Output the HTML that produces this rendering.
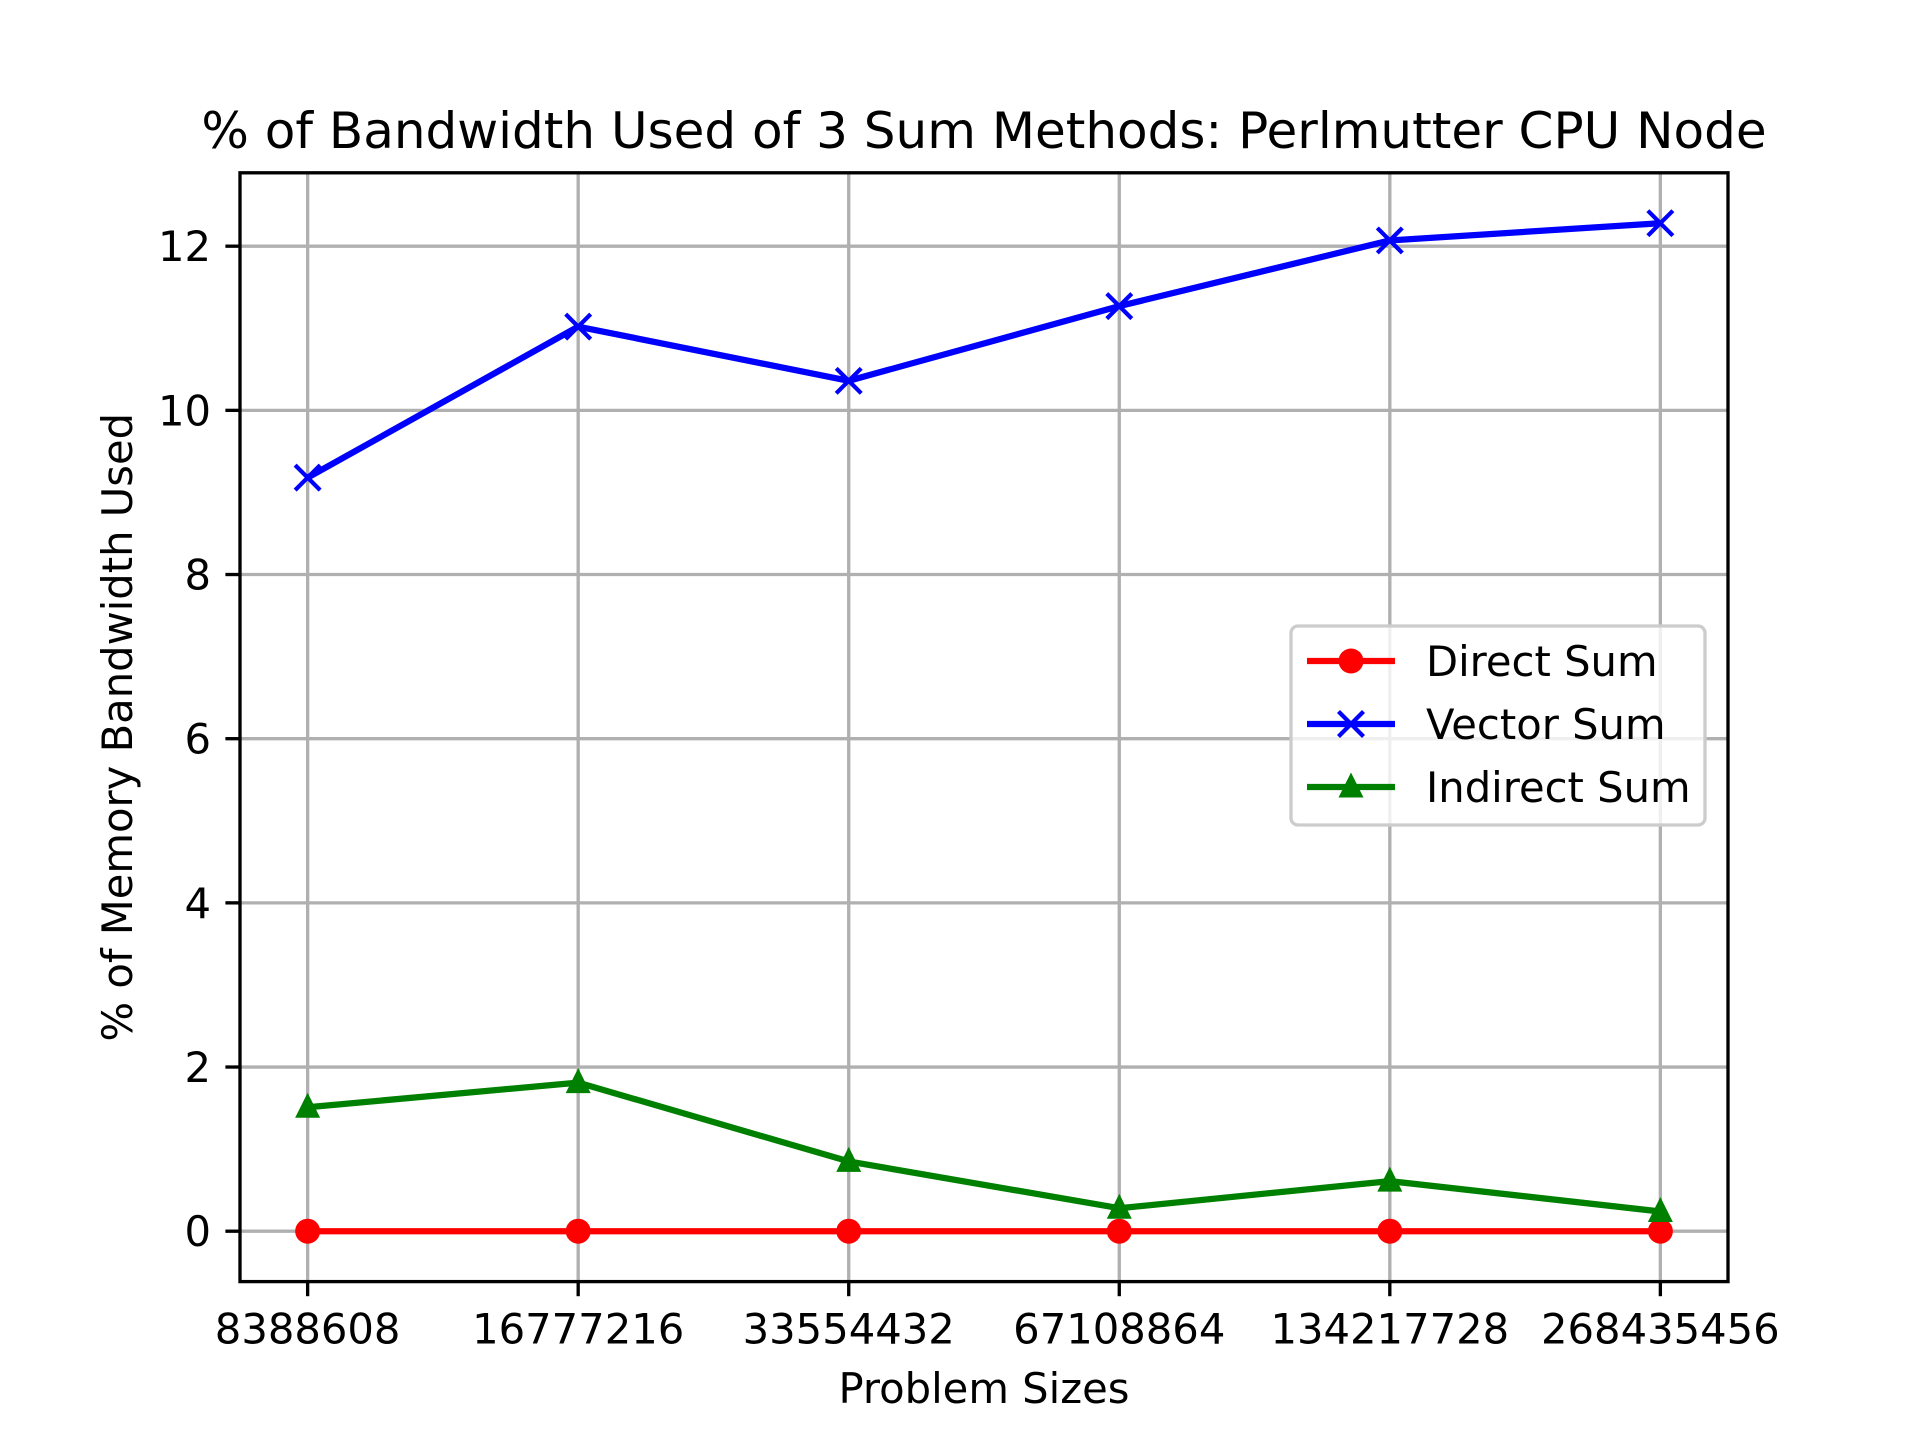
<!DOCTYPE html>
<html><head><meta charset="utf-8"><style>body{margin:0;background:#fff}svg{display:block}text{font-family:"DejaVu Sans","Liberation Sans",sans-serif;fill:#000}</style></head>
<body>
<svg id="chart" width="1920" height="1440" xmlns="http://www.w3.org/2000/svg">
<rect width="1920" height="1440" fill="#fff"/>
<g id="grid"></g><g id="series"></g><g id="axes"></g>
</svg>
<script>
const categories=["8388608","16777216","33554432","67108864","134217728","268435456"];
const directSum=[0,0,0,0,0,0];
const vectorSum=[9.18,11.02,10.36,11.27,12.07,12.28];
const indirectSum=[1.51,1.81,0.85,0.28,0.61,0.24];
const yTicks=[0,2,4,6,8,10,12];
const L=240,R=1728,T=172.8,B=1281.6;
const ns="http://www.w3.org/2000/svg";
const allv=directSum.concat(vectorSum,indirectSum);
const ymin=Math.min(...allv),ymax=Math.max(...allv),pad=(ymax-ymin)*0.05;
const y0=ymin-pad,y1=ymax+pad;
const x=i=>L+(i+0.25)/(categories.length-1+0.5)*(R-L);
const y=v=>B-(v-y0)/(y1-y0)*(B-T);
function mk(tag,attrs,parent){const e=document.createElementNS(ns,tag);for(const k in attrs)e.setAttribute(k,attrs[k]);parent.appendChild(e);return e;}
const grid=document.getElementById('grid'),ser=document.getElementById('series'),ax=document.getElementById('axes');
categories.forEach((c,i)=>{
 const g=mk('line',{x1:x(i),x2:x(i),y1:T,y2:B,stroke:'#b0b0b0','stroke-width':3.33},grid);
 
 
 const t=mk('line',{x1:x(i),x2:x(i),y1:B,y2:B+14.6,stroke:'#000','stroke-width':3.33},ax);
 
 
 const l=mk('text',{x:x(i),y:B+62,'text-anchor':'middle','font-size':41.7},ax);l.textContent=c;
 
 
});
yTicks.forEach(v=>{
 const g=mk('line',{x1:L,x2:R,y1:y(v),y2:y(v),stroke:'#b0b0b0','stroke-width':3.33},grid);
 
 
 const t=mk('line',{x1:L-14.6,x2:L,y1:y(v),y2:y(v),stroke:'#000','stroke-width':3.33},ax);
 
 
 const l=mk('text',{x:L-29,y:y(v)+15,'text-anchor':'end','font-size':41.7},ax);l.textContent=v;
 
 
});
function marker(type,cx,cy,color,p){
 let e;
 if(type==='o')e=mk('circle',{cx:cx,cy:cy,r:12.5,fill:color},p);
 else if(type==='x')e=mk('path',{d:`M${cx-12.5},${cy-12.5}L${cx+12.5},${cy+12.5}M${cx-12.5},${cy+12.5}L${cx+12.5},${cy-12.5}`,stroke:color,'stroke-width':4.2,fill:'none'},p);
 else e=mk('path',{d:`M${cx},${cy-14.5}L${cx+12.5},${cy+10.5}L${cx-12.5},${cy+10.5}Z`,fill:color},p);
 return e;
}
const series=[["direct-sum",directSum,'#ff0000','o'],["vector-sum",vectorSum,'#0000ff','x'],["indirect-sum",indirectSum,'#008000','^']];
series.forEach(([n,d,c,m])=>{
 const pl=mk('polyline',{points:d.map((v,i)=>x(i)+','+y(v)).join(' '),fill:'none',stroke:c,'stroke-width':6.25,'stroke-linejoin':'round'},ser);
 
 
 d.forEach((v,i)=>{const e=marker(m,x(i),y(v),c,ser);
 
 });
});
const fr=mk('rect',{x:L,y:T,width:R-L,height:B-T,fill:'none',stroke:'#000','stroke-width':3.33},ax);


const tt=mk('text',{x:(L+R)/2,y:148,'text-anchor':'middle','font-size':50},ax);tt.textContent='% of Bandwidth Used of 3 Sum Methods: Perlmutter CPU Node';


const xl=mk('text',{x:(L+R)/2,y:1403,'text-anchor':'middle','font-size':41.7},ax);xl.textContent='Problem Sizes';


const yl=mk('text',{x:0,y:0,'text-anchor':'middle','font-size':41.7,transform:`translate(132,${(T+B)/2}) rotate(-90)`},ax);yl.textContent='% of Memory Bandwidth Used';


const lg=mk('g',{},ax);


mk('rect',{x:1291,y:626,width:414,height:199,rx:7,fill:'#fff','fill-opacity':0.8,stroke:'#cccccc','stroke-width':3.33},lg);
const names=['Direct Sum','Vector Sum','Indirect Sum'];
series.forEach(([n,d,c,m],k)=>{
 const yy=661+k*63;
 const ln=mk('line',{x1:1307,x2:1395,y1:yy,y2:yy,stroke:c,'stroke-width':6.25},lg);
 
 
 marker(m,1351,yy,c,lg);
 const t=mk('text',{x:1426,y:yy+15,'font-size':41.7},lg);t.textContent=names[k];
 
 
});
</script>
</body></html>
